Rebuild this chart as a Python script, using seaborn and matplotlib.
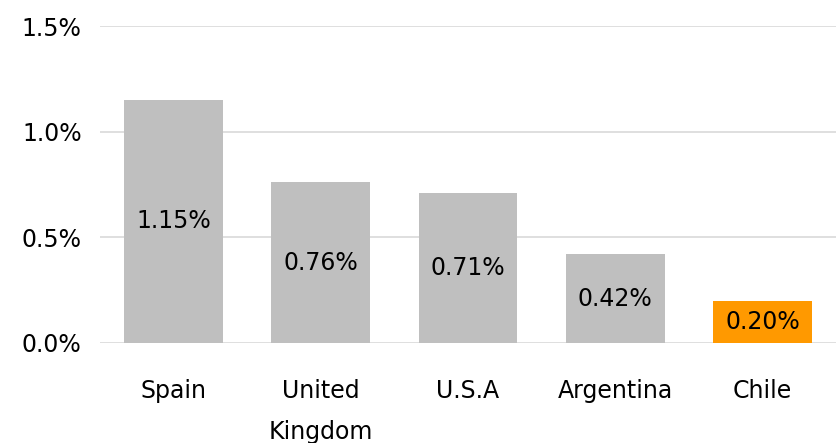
import seaborn as sns
import matplotlib.pyplot as plt
import pandas as pd

# Values
countries = ['Spain', 'United\nKingdom', 'U.S.A', 'Argentina', 'Chile']
rates = [1.15, 0.76, 0.71, 0.42, 0.20]
bar_colors = ['#bfbfbf', '#bfbfbf', '#bfbfbf', '#bfbfbf', '#ff9900']
y_ticks = [0.0, 0.5, 1.0, 1.5]

df = pd.DataFrame({'Country': countries, 'Rate': rates})

sns.set_style('white')
plt.rcParams['font.family'] = ['DejaVu Sans']

fig = plt.figure(figsize=(8.38, 4.43), dpi=100)
ax = fig.add_axes([0.119, 0.226, 0.879, 0.715])

sns.barplot(data=df, x='Country', y='Rate', hue='Country', palette=bar_colors,
            width=0.67, legend=False, ax=ax, saturation=1, linewidth=0)

# Value labels centred inside each bar
for i, v in enumerate(rates):
    ax.text(i, v / 2, f'{v:.2f}%', ha='center', va='center', fontsize=17, color='black')

ax.set_ylim(0, 1.5)
ax.set_xlim(-0.5, 4.5)
ax.set_yticks(y_ticks)
ax.set_yticklabels([f'{t:.1f}%' for t in y_ticks])
ax.yaxis.grid(True, color='#d9d9d9', linewidth=1.2)
ax.set_axisbelow(True)
ax.tick_params(axis='y', length=0, pad=13, labelsize=17, labelcolor='black')
ax.tick_params(axis='x', length=0, pad=26, labelsize=17, labelcolor='black')
for lbl in ax.get_xticklabels():
    lbl.set_linespacing(1.9)
ax.set_xlabel('')
ax.set_ylabel('')
for s in ax.spines.values():
    s.set_visible(False)

fig.savefig('out.png', dpi=100)
